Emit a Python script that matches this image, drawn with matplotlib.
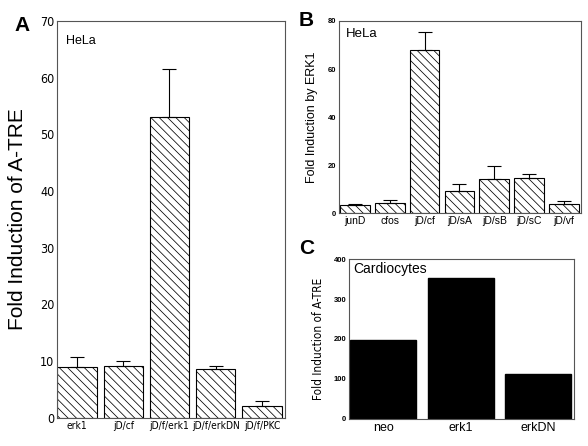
import numpy as np
import matplotlib
matplotlib.use('Agg')
import matplotlib.pyplot as plt

# panel A data
a_labels = ['erk1', 'jD/cf', 'jD/f/erk1', 'jD/f/erkDN', 'jD/f/PKC']
a_vals = [9.0, 9.2, 53.0, 8.6, 2.1]
a_err = [1.7, 0.9, 8.5, 0.6, 0.8]

# panel B data
b_labels = ['junD', 'cfos', 'jD/cf', 'jD/sA', 'jD/sB', 'jD/sC', 'jD/vf']
b_vals = [3.5, 4.2, 68.0, 9.3, 14.2, 14.8, 4.0]
b_err = [0.5, 1.4, 7.2, 2.7, 5.4, 1.5, 0.9]

# panel C data
c_labels = ['neo', 'erk1', 'erkDN']
c_vals = [197, 352, 113]

plt.rcParams['hatch.linewidth'] = 0.55
plt.rcParams['font.family'] = 'Liberation Sans'

# narrow font for the squeezed labels
narrow = dict(family='DejaVu Sans', stretch='condensed')
hatch = '\\\\\\\\'

fig = plt.figure(figsize=(5.88, 4.46), dpi=100)

def style(ax):
    for s in ax.spines.values():
        s.set_linewidth(0.8)
        s.set_color('#555555')
    ax.tick_params(length=0, pad=2)

# ---- A
axA = fig.add_axes([0.097, 0.063, 0.388, 0.890])
x = np.arange(len(a_labels))
axA.bar(x, a_vals, width=0.85, color='white', edgecolor='black', linewidth=0.8, hatch=hatch)
axA.errorbar(x, a_vals, yerr=[np.zeros(len(x)), a_err], fmt='none', ecolor='black',
             elinewidth=0.8, capsize=5, capthick=0.8)
axA.set_xlim(-0.43, 4.5)
axA.set_ylim(0, 70)
axA.set_yticks(range(0, 71, 10))
axA.set_xticks(x)
axA.set_xticklabels(a_labels, fontsize=7.3, **narrow)
axA.set_yticklabels([str(v) for v in range(0, 71, 10)], fontsize=9, **narrow)
axA.tick_params(axis='x', pad=8)
axA.set_ylabel('Fold Induction of A-TRE', fontsize=15, labelpad=9)
axA.text(0.04, 0.965, 'HeLa', transform=axA.transAxes, fontsize=9, va='top')
style(axA)
fig.text(0.025, 0.965, 'A', fontsize=15, fontweight='bold', va='top')

# ---- B
axB = fig.add_axes([0.5765, 0.522, 0.412, 0.431])
x = np.arange(len(b_labels))
axB.bar(x, b_vals, width=0.85, color='white', edgecolor='black', linewidth=0.8, hatch=hatch)
axB.errorbar(x, b_vals, yerr=[np.zeros(len(x)), b_err], fmt='none', ecolor='black',
             elinewidth=0.8, capsize=5, capthick=0.8)
axB.set_xlim(-0.46, 6.5)
axB.set_ylim(0, 80)
axB.set_yticks(range(0, 81, 20))
axB.set_xticks(x)
axB.set_xticklabels(b_labels, fontsize=7.5)
axB.set_yticklabels([str(v) for v in range(0, 81, 20)], fontsize=5.5, fontweight='bold')
axB.set_ylabel('Fold Induction by ERK1', fontsize=9, labelpad=7)
axB.text(0.03, 0.965, 'HeLa', transform=axB.transAxes, fontsize=9.5, va='top')
style(axB)
fig.text(0.508, 0.975, 'B', fontsize=15, fontweight='bold', va='top')

# ---- C
axC = fig.add_axes([0.5935, 0.061, 0.383, 0.358])
x = np.arange(len(c_labels))
axC.bar(x, c_vals, width=0.85, color='black', edgecolor='black')
axC.set_xlim(-0.44, 2.46)
axC.set_ylim(0, 400)
axC.set_yticks(range(0, 401, 100))
axC.set_xticks(x)
axC.set_xticklabels(c_labels, fontsize=9)
axC.tick_params(axis='x', pad=5)
axC.set_yticklabels([str(v) for v in range(0, 401, 100)], fontsize=5.5, fontweight='bold')
axC.set_ylabel('Fold Induction of A-TRE', fontsize=8.5, labelpad=6, **narrow)
axC.text(0.02, 0.98, 'Cardiocytes', transform=axC.transAxes, fontsize=10, va='top')
style(axC)
fig.text(0.508, 0.465, 'C', fontsize=15, fontweight='bold', va='top')

fig.savefig('out.png', dpi=100)
